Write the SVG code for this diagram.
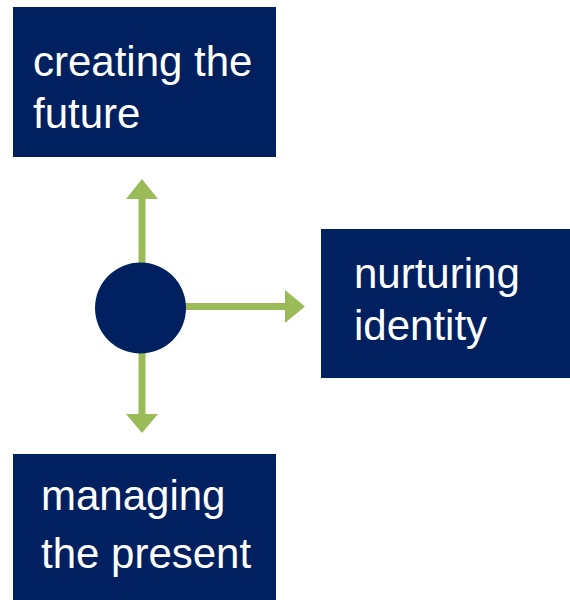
<svg xmlns="http://www.w3.org/2000/svg" width="570" height="600" viewBox="0 0 570 600">
<style>
.box{fill:#002060}
.t{font-family:"Liberation Sans",Arial,sans-serif;font-size:42px;fill:#ffffff}
.ln{stroke:#9bbb59;stroke-width:7;fill:none}
.hd{fill:#9bbb59}
</style>
<rect width="570" height="600" fill="#ffffff"/>
<g id="connectors">
<line class="ln" x1="142" y1="270" x2="142" y2="198"/>
<polygon class="hd" points="126,199 158,199 142,179"/>
<line class="ln" x1="142" y1="345" x2="142" y2="415"/>
<polygon class="hd" points="126,414 158,414 142,433"/>
<line class="ln" x1="180" y1="306.5" x2="286" y2="306.5"/>
<polygon class="hd" points="285,290 285,323 305,306.5"/>
</g>
<g id="center">
<circle cx="140.5" cy="308" r="45.5" fill="#002060"/>
</g>
<g id="creating-the-future">
<rect class="box" x="13" y="7" width="263" height="150"/>
<text class="t" x="33" y="76">creating the</text>
<text class="t" x="33" y="128">future</text>
</g>
<g id="nurturing-identity">
<rect class="box" x="321" y="229" width="249" height="149"/>
<text class="t" x="354" y="288">nurturing</text>
<text class="t" x="354" y="340">identity</text>
</g>
<g id="managing-the-present">
<rect class="box" x="13" y="454" width="263" height="146"/>
<text class="t" x="41" y="510">managing</text>
<text class="t" x="41" y="568">the present</text>
</g>
</svg>
